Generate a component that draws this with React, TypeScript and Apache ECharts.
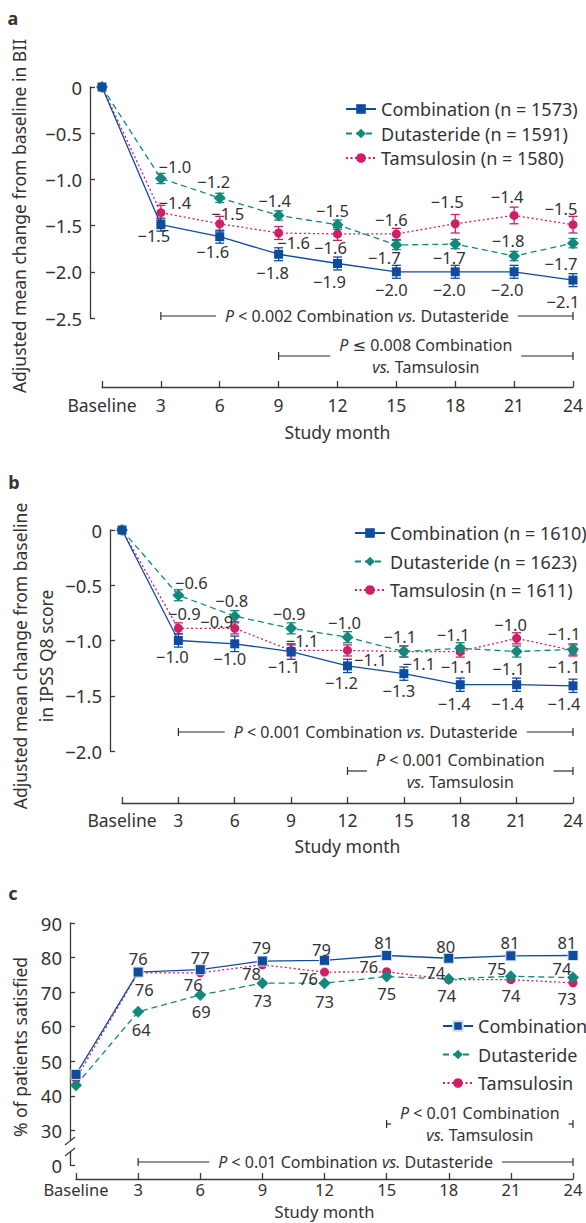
import React, { useEffect, useRef } from "react";
import * as echarts from "echarts";

// ---------- data ----------
const months = [0, 3, 6, 9, 12, 15, 18, 21, 24];

// Panel a: adjusted mean change from baseline in BII
const aComb = [0, -1.49, -1.62, -1.81, -1.91, -2.0, -2.0, -2.0, -2.09];
const aDut = [0, -0.99, -1.2, -1.39, -1.49, -1.71, -1.7, -1.83, -1.69];
const aTam = [0, -1.36, -1.48, -1.58, -1.59, -1.59, -1.48, -1.39, -1.49];
const aCombErr = [0, 0.07, 0.07, 0.07, 0.07, 0.07, 0.07, 0.07, 0.07];
const aDutErr = [0, 0.055, 0.05, 0.05, 0.05, 0.05, 0.05, 0.05, 0.05];
const aTamErr = [0, 0.08, 0.08, 0.07, 0.07, 0.06, 0.1, 0.09, 0.09];
const legendA = ["Combination (n = 1573)", "Dutasteride (n = 1591)", "Tamsulosin (n = 1580)"];

// Panel b: adjusted mean change from baseline in IPSS Q8 score
const bComb = [0, -1.0, -1.03, -1.1, -1.23, -1.3, -1.4, -1.4, -1.41];
const bDut = [0, -0.59, -0.78, -0.89, -0.97, -1.1, -1.07, -1.1, -1.08];
const bTam = [0, -0.89, -0.89, -1.09, -1.09, -1.1, -1.1, -0.98, -1.09];
const bCombErr = [0, 0.06, 0.07, 0.07, 0.06, 0.06, 0.06, 0.06, 0.06];
const bDutErr = [0, 0.05, 0.05, 0.05, 0.05, 0.05, 0.05, 0.05, 0.05];
const bTamErr = [0, 0.05, 0.05, 0.05, 0.05, 0.05, 0.05, 0.05, 0.05];
const legendB = ["Combination (n = 1610)", "Dutasteride (n = 1623)", "Tamsulosin (n = 1611)"];

// Panel c: % of patients satisfied
const cComb = [46.2, 75.8, 76.5, 79.0, 79.2, 80.6, 79.8, 80.5, 80.6];
const cDut = [43.1, 64.3, 69.2, 72.6, 72.6, 74.5, 73.8, 74.6, 74.2];
const cTam = [45.0, 75.6, 75.6, 77.9, 75.8, 75.9, 73.6, 73.6, 72.7];
const legendC = ["Combination", "Dutasteride", "Tamsulosin"];

// Significance brackets
const annotations = [
  { grid: 0, from: 3, to: 24, lines: ["{i|P} < 0.002 Combination {i|vs.} Dutasteride"] },
  { grid: 0, from: 9, to: 24, lines: ["{i|P} \u2264 0.008 Combination", "{i|vs.} Tamsulosin"] },
  { grid: 1, from: 3, to: 24, lines: ["{i|P} < 0.001 Combination {i|vs.} Dutasteride"] },
  { grid: 1, from: 12, to: 24, lines: ["{i|P} < 0.001 Combination", "{i|vs.} Tamsulosin"] },
  { grid: 2, from: 3, to: 24, lines: ["{i|P} < 0.01 Combination {i|vs.} Dutasteride"] },
  { grid: 2, from: 15, to: 24, lines: ["{i|P} < 0.01 Combination", "{i|vs.} Tamsulosin"] },
];

// ---------- layout / style ----------
const annY = [316, 356, 732, 771, 1162, 1124];
const FONT = "'Noto Sans', 'DejaVu Sans', sans-serif";
const TXT = "#333333";
const AXIS = "#3a3a3a";
const C_COMB = "#0f4c9e";
const C_DUT = "#12897b";
const C_TAM = "#cf1f67";

type Off = number[] | null;
const offA = {
  comb: [null, [-7, 11], [-7, 15], [-6, 18], [-8, 18], [-5, 18], [-6, 18], [-7, 18], [-10, 21]] as Off[],
  dut: [null, [14, -12], [-6, -16], [-4, -15], [-5, -14], [-12, 12], [-6, 13], [-6, -16], [-12, 20]] as Off[],
  tam: [null, [14, -10], [8, -10], [15, 10], [-7, 14], [-5, -14], [-8, -22], [-7, -19], [-12, -16]] as Off[],
};
const offB = {
  comb: [null, [-6, 16], [-5, 15], [-7, 15], [-6, 17], [-5, 17], [-6, 19], [-9, 19], [-9, 18]] as Off[],
  dut: [null, [13, -13], [-3, -16], [-2, -15], [-3, -15], [-4, -15], [-7, -14], [-8, 17], [-9, -16]] as Off[],
  tam: [null, [6, -15], [-18, -7], [11, -10], [23, 9], [15, 12], [-3, 15], [-6, -14], [-9, 16]] as Off[],
};
const offC = {
  comb: [null, [0, -14], [0, -12], [-1, -14], [-3, -11], [-3, -13], [-3, -12], [-1, -13], [-6, -13]] as Off[],
  dut: [null, [3, 18], [1, 17], [0, 17], [0, 18], [0, 17], [-13, -7], [-14, -8], [-11, -9]] as Off[],
  tam: [null, [6, 17], [-7, 12], [-11, 9], [-16, 6], [-18, -5], [-2, 16], [0, 16], [-6, 16]] as Off[],
};

const RICH = { i: { fontStyle: "italic", fontSize: 16, fontFamily: FONT, fill: TXT, color: TXT } };

const fmt1 = (v: number) => v.toFixed(1).replace("-", "\u2212");
const fmt0 = (v: number) => String(Math.round(v));

function lineSeries(name: string, grid: number, vals: number[], offs: Off[], color: string,
  symbol: string, size: number, dash: any, fmt: (v: number) => string, border?: boolean) {
  return {
    type: "line",
    name,
    xAxisIndex: grid,
    yAxisIndex: grid,
    symbol,
    symbolSize: size,
    showAllSymbol: true,
    clip: false,
    z: 3,
    lineStyle: { color, width: 1.3, type: dash },
    itemStyle: border ? { color, borderColor: "#d6def0", borderWidth: 1 } : { color },
    label: {
      show: true,
      position: "inside",
      fontSize: 16.5,
      lineHeight: 18,
      color: TXT,
      fontFamily: FONT,
      textBorderWidth: 0,
      formatter: (p: any) => fmt(p.value[1]),
    },
    emphasis: { disabled: true },
    data: vals.map((v, i) => ({
      value: [months[i], v],
      label: offs[i] ? { show: true, offset: offs[i] } : { show: false },
    })),
  };
}

function errSeries(grid: number, vals: number[], errs: number[], color: string) {
  return {
    type: "custom",
    xAxisIndex: grid,
    yAxisIndex: grid,
    z: 2,
    clip: false,
    silent: true,
    encode: { x: 0, y: [1, 2] },
    data: vals.map((v, i) => [months[i], v - errs[i], v + errs[i]]).filter((_, i) => errs[i] > 0),
    renderItem: (_params: any, api: any) => {
      const x = api.value(0);
      const lo = api.coord([x, api.value(1)]);
      const hi = api.coord([x, api.value(2)]);
      const w = 4.5;
      const st = { stroke: color, lineWidth: 1.3 };
      return {
        type: "group",
        children: [
          { type: "line", shape: { x1: lo[0], y1: lo[1], x2: hi[0], y2: hi[1] }, style: st },
          { type: "line", shape: { x1: lo[0] - w, y1: lo[1], x2: lo[0] + w, y2: lo[1] }, style: st },
          { type: "line", shape: { x1: hi[0] - w, y1: hi[1], x2: hi[0] + w, y2: hi[1] }, style: st },
        ],
      };
    },
  };
}

function xAxisCfg(gridIndex: number, offset: number, margin: number, nameGap: number, fs: number, nfs: number) {
  return {
    type: "value",
    gridIndex,
    min: 0,
    max: 24,
    interval: 3,
    offset,
    axisLine: { show: true, onZero: false, lineStyle: { color: AXIS, width: 1.3 } },
    axisTick: { show: true, inside: true, length: 6, lineStyle: { color: AXIS, width: 1.3 } },
    axisLabel: {
      margin,
      fontSize: fs,
      lineHeight: fs,
      color: TXT,
      fontFamily: FONT,
      formatter: (v: number) => (v === 0 ? "Baseline" : String(v)),
    },
    splitLine: { show: false },
    name: "Study month",
    nameLocation: "middle",
    nameGap,
    nameTextStyle: { fontSize: nfs, lineHeight: nfs, color: TXT, fontFamily: FONT },
  };
}

function yAxisCfg(gridIndex: number, min: number, max: number, interval: number, offset: number,
  formatter: (v: number) => string) {
  return {
    type: "value",
    gridIndex,
    min,
    max,
    interval,
    offset,
    axisLine: { show: true, onZero: false, lineStyle: { color: AXIS, width: 1.3 } },
    axisTick: { show: true, inside: true, length: 5, lineStyle: { color: AXIS, width: 1.3 } },
    axisLabel: { margin: 8, fontSize: 18.5, color: TXT, fontFamily: FONT, formatter },
    splitLine: { show: false },
  };
}

function legendCfg(data: string[], left: number, top: number, itemGap: number) {
  return {
    data,
    left,
    top,
    orient: "vertical",
    itemWidth: 30,
    itemHeight: 12,
    itemGap,
    padding: 0,
    selectedMode: false,
    textStyle: { fontSize: 18, lineHeight: 18, color: TXT, fontFamily: FONT },
  };
}

export default function App() {
  const ref = useRef<HTMLDivElement>(null);

  useEffect(() => {
    if (!ref.current) return;
    const chart = echarts.init(ref.current, null, { renderer: "svg" });

    const yFmtDec = (v: number) => (v === 0 ? "0" : fmt1(v));
    const yFmtC = (v: number) => (v === 20 ? "0" : String(v));

    chart.setOption({
      animation: false,
      backgroundColor: "#ffffff",
      textStyle: { fontFamily: FONT },
      grid: [
        { left: 102, right: 11, top: 87, height: 231 },
        { left: 122, right: 11, top: 530, height: 221 },
        { left: 76, right: 13, top: 923, height: 242 },
      ],
      xAxis: [
        xAxisCfg(0, 69, 9, 36, 17.5, 17.5),
        xAxisCfg(1, 52, 8, 34, 17.5, 17.5),
        xAxisCfg(2, 14, 2, 24, 16.5, 16.5),
      ],
      yAxis: [
        yAxisCfg(0, -2.5, 0, 0.5, 12, yFmtDec),
        yAxisCfg(1, -2.0, 0, 0.5, 12, yFmtDec),
        yAxisCfg(2, 20, 90, 10, 6, yFmtC),
      ],
      legend: [
        legendCfg(legendA, 345, 100, 6.5),
        legendCfg(legendB, 354, 524, 10.5),
        legendCfg(legendC, 442, 1017, 10.5),
      ],
      series: [
        errSeries(0, aTam, aTamErr, C_TAM),
        errSeries(0, aDut, aDutErr, C_DUT),
        errSeries(0, aComb, aCombErr, C_COMB),
        lineSeries(legendA[2], 0, aTam, offA.tam, C_TAM, "circle", 9, [2, 2.5], fmt1),
        lineSeries(legendA[1], 0, aDut, offA.dut, C_DUT, "diamond", 12, [6, 4], fmt1),
        lineSeries(legendA[0], 0, aComb, offA.comb, C_COMB, "rect", 9, "solid", fmt1),

        errSeries(1, bTam, bTamErr, C_TAM),
        errSeries(1, bDut, bDutErr, C_DUT),
        errSeries(1, bComb, bCombErr, C_COMB),
        lineSeries(legendB[2], 1, bTam, offB.tam, C_TAM, "circle", 9, [2, 2.5], fmt1),
        lineSeries(legendB[1], 1, bDut, offB.dut, C_DUT, "diamond", 12, [6, 4], fmt1),
        lineSeries(legendB[0], 1, bComb, offB.comb, C_COMB, "rect", 9, "solid", fmt1),

        lineSeries(legendC[2], 2, cTam, offC.tam, C_TAM, "circle", 9, [2, 2.5], fmt0),
        lineSeries(legendC[1], 2, cDut, offC.dut, C_DUT, "diamond", 12, [6, 4], fmt0),
        lineSeries(legendC[0], 2, cComb, offC.comb, C_COMB, "rect", 10, "solid", fmt0, true),
      ],
    });

    // ---- graphic overlays (panel letters, axis names, axis break, brackets) ----
    const g: any[] = [];
    const letter = (t: string, x: number, y: number) =>
      g.push({
        type: "text", x, y, z: 100,
        style: { text: t, fontSize: 18, fontWeight: "bold", fontFamily: FONT, fill: TXT, align: "center", verticalAlign: "middle" },
      });
    letter("a", 13, 18);
    letter("b", 14, 482);
    letter("c", 13, 893);

    const yName = (t: string, x: number, y: number) =>
      g.push({
        type: "text", x, y, rotation: Math.PI / 2, z: 100,
        style: { text: t, fontSize: 17.5, lineHeight: 26, fontFamily: FONT, fill: TXT, align: "center", verticalAlign: "middle" },
      });
    yName("Adjusted mean change from baseline in BII", 19, 216);
    yName("Adjusted mean change from baseline\nin IPSS Q8 score", 33, 656);
    yName("% of patients satisfied", 20, 1047);

    // axis break on panel c
    const yb = chart.convertToPixel({ yAxisIndex: 2 }, 20) as number;
    const axX = (chart.convertToPixel({ xAxisIndex: 2 }, 0) as number) - 6;
    g.push({ type: "rect", z: 100, shape: { x: axX - 6, y: yb - 24, width: 12, height: 11 }, style: { fill: "#ffffff" } });
    g.push({ type: "line", z: 101, shape: { x1: axX - 5, y1: yb - 20, x2: axX + 5, y2: yb - 28 }, style: { stroke: AXIS, lineWidth: 1.3 } });
    g.push({ type: "line", z: 101, shape: { x1: axX - 5, y1: yb - 9, x2: axX + 5, y2: yb - 17 }, style: { stroke: AXIS, lineWidth: 1.3 } });

    // significance brackets
    const measure = (text: string) => {
      const t = new (echarts.graphic as any).Text({ style: { text, fontSize: 16, fontFamily: FONT, rich: RICH } });
      return t.getBoundingRect().width;
    };
    const st = { stroke: "#2a2a2a", lineWidth: 1.2 };
    annotations.forEach((a, k) => {
      const x1 = chart.convertToPixel({ xAxisIndex: a.grid }, a.from) as number;
      const x2 = chart.convertToPixel({ xAxisIndex: a.grid }, a.to) as number;
      const cx = (x1 + x2) / 2;
      const y = annY[k];
      const tw = Math.max(...a.lines.map(measure));
      const gap = 9;
      const lineH = 22.5;
      a.lines.forEach((ln, j) => {
        const ty = a.lines.length === 1 ? y : y + (j - 0.5) * lineH;
        g.push({
          type: "text", x: cx, y: ty, z: 100,
          style: { text: ln, rich: RICH, fontSize: 16, fontFamily: FONT, fill: TXT, align: "center", verticalAlign: "middle" },
        });
      });
      g.push({ type: "line", z: 100, shape: { x1, y1: y, x2: cx - tw / 2 - gap, y2: y }, style: st });
      g.push({ type: "line", z: 100, shape: { x1: cx + tw / 2 + gap, y1: y, x2, y2: y }, style: st });
      g.push({ type: "line", z: 100, shape: { x1, y1: y - 4, x2: x1, y2: y + 4 }, style: st });
      g.push({ type: "line", z: 100, shape: { x1: x2, y1: y - 4, x2, y2: y + 4 }, style: st });
    });

    chart.setOption({ graphic: g });

    return () => chart.dispose();
  }, []);

  return (
    <div
      ref={ref}
      style={{ position: "absolute", left: 0, top: 0, width: 586, height: 1223, background: "#fff" }}
    />
  );
}
